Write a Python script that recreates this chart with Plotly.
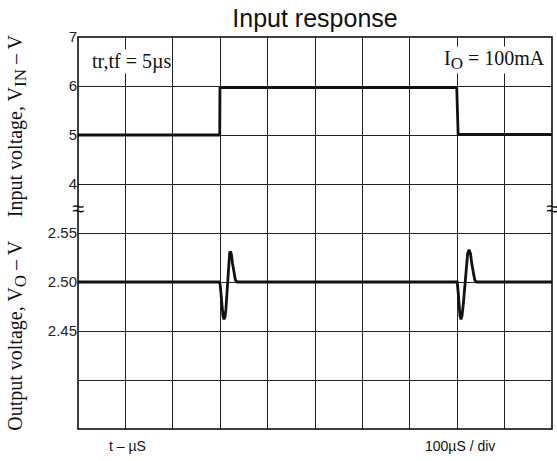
import plotly.graph_objects as go

# Time axis (µs), 100 µs/div, 10 divisions
x_range = [0, 1000]

# Input voltage step (V)
vin_t = [0, 299, 299.5, 799, 802, 1000]
vin_v = [5.0, 5.0, 5.965, 5.965, 5.01, 5.01]

# Output voltage transient response (V)
vo_t = [0, 298, 300, 302, 304, 306, 308, 310, 312, 314, 316, 318, 320, 322, 324, 326, 329, 332, 336, 340,
        798, 800, 802, 804, 806, 808, 810, 813, 816, 819, 822, 825, 828, 831, 834, 837, 841, 1000]
vo_v = [2.500, 2.500, 2.497, 2.484, 2.472, 2.465, 2.462, 2.464, 2.472, 2.488, 2.506, 2.521, 2.530, 2.531,
        2.527, 2.519, 2.508, 2.502, 2.500, 2.500,
        2.500, 2.500, 2.490, 2.474, 2.465, 2.462, 2.465, 2.478, 2.497, 2.516, 2.529, 2.533, 2.529, 2.518,
        2.508, 2.502, 2.500, 2.500]

vin_ticks = [4, 5, 6, 7]
vin_ticktext = ["4", "5", "6", "7"]
vo_ticks = [2.40, 2.45, 2.50, 2.55]
vo_ticktext = ["", "2.45", "2.50", "2.55"]

serif = "Liberation Serif"
sans = "Liberation Sans"

fig = go.Figure()
fig.add_trace(go.Scatter(x=vin_t, y=vin_v, mode="lines", yaxis="y",
                         line=dict(color="#111", width=2.8), showlegend=False))
fig.add_trace(go.Scatter(x=vo_t, y=vo_v, mode="lines", yaxis="y2",
                         line=dict(color="#111", width=2.8), showlegend=False))

grid = dict(showgrid=True, gridcolor="#222", gridwidth=1, zeroline=False, showline=False)
tickfont = dict(family=sans, size=15, color="#222")

fig.update_layout(
    width=557, height=461,
    margin=dict(l=78, r=5, t=37, b=32),
    paper_bgcolor="white", plot_bgcolor="white",
    title=dict(text="Input response", x=0.5, xref="paper", xanchor="center",
               y=1 - 18 / 461, yref="container", yanchor="middle",
               font=dict(family=sans, size=25, color="#111")),
    xaxis=dict(range=x_range, dtick=100, tick0=0, showticklabels=False, ticks="", **grid),
    yaxis=dict(domain=[4.5 / 8, 1], range=[3.5, 7], tickvals=vin_ticks, ticktext=vin_ticktext,
               ticks="", tickfont=tickfont, **grid),
    yaxis2=dict(domain=[0, 4.5 / 8], range=[2.35, 2.575], tickvals=vo_ticks, ticktext=vo_ticktext,
                ticks="", tickfont=tickfont, anchor="x", **grid),
    shapes=[dict(type="rect", xref="paper", yref="paper", x0=0, x1=1, y0=0, y1=1,
                 line=dict(color="black", width=1.5))],
)

sub = '<sub><span style="font-size:17px">{}</span></sub>'
lab_font = dict(family=serif, size=20, color="#111")
annotations = [
    dict(text="tr,tf = 5µs", x=(91 - 78.5) / 473, y=(429.4 - 61) / 392.7, xanchor="left", yanchor="middle",
         font=lab_font, bgcolor="white", borderpad=0),
    dict(text="I" + sub.format("O") + " = 100mA", x=(546 - 78.5) / 473, y=(429.4 - 60) / 392.7,
         xanchor="right", yanchor="middle", font=lab_font, bgcolor="white", borderpad=0),
    dict(text="Input voltage, V" + sub.format("IN") + " – V", x=0, xshift=-61, y=(429.4 - 126) / 392.7,
         xanchor="center", yanchor="middle", textangle=-90, font=lab_font),
    dict(text="Output voltage, V" + sub.format("O") + " – V", x=0, xshift=-61, y=(429.4 - 336) / 392.7,
         xanchor="center", yanchor="middle", textangle=-90, font=lab_font),
    dict(text="t – µS", x=(128 - 78.5) / 473, y=0, yshift=-17, xanchor="center", yanchor="middle",
         font=dict(family=sans, size=14, color="#111")),
    dict(text="100µS / div", x=(460 - 78.5) / 473, y=0, yshift=-17, xanchor="center", yanchor="middle",
         font=dict(family=sans, size=14, color="#111")),
    dict(text="≈", x=0, y=(429.4 - 209) / 392.7, xanchor="center", yanchor="middle",
         font=dict(family=sans, size=22, color="#111"), bgcolor="rgba(255,255,255,0)"),
    dict(text="≈", x=1, y=(429.4 - 209) / 392.7, xanchor="center", yanchor="middle",
         font=dict(family=sans, size=22, color="#111"), bgcolor="rgba(255,255,255,0)"),
]
for a in annotations:
    a.update(xref="paper", yref="paper", showarrow=False)
fig.update_layout(annotations=annotations)

fig.write_html("out.html", config={"displayModeBar": False},
               post_script="document.body.style.margin='0';")
